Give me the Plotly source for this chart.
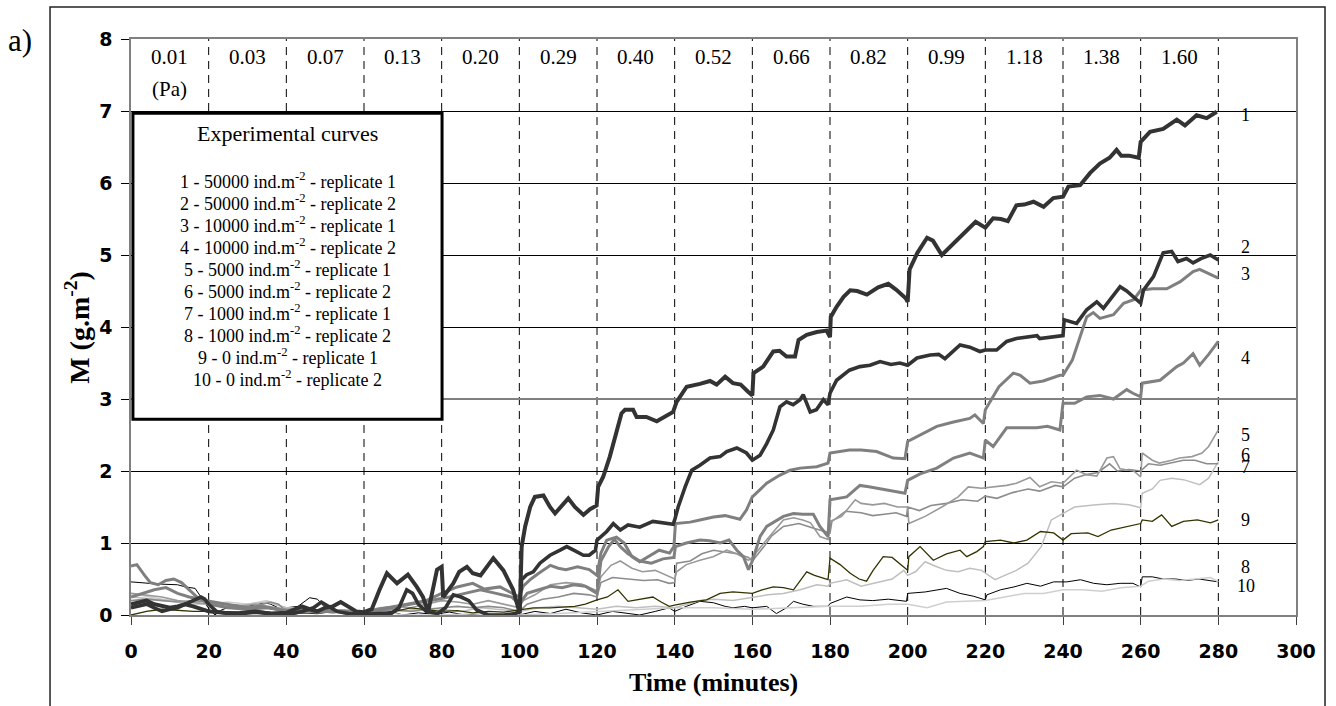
import plotly.graph_objects as go

# ---------------- data ----------------
stress_labels = ["0.01", "0.03", "0.07", "0.13", "0.20", "0.29", "0.40",
                 "0.52", "0.66", "0.82", "0.99", "1.18", "1.38", "1.60"]
stress_x = [10, 30, 50, 70, 90, 110, 130, 150, 170, 190, 210, 230, 250, 270]

legend_title = "Experimental curves"
legend_items = [
    "1 - 50000 ind.m<sup>-2</sup> - replicate 1",
    "2 - 50000 ind.m<sup>-2</sup> - replicate 2",
    "3 - 10000 ind.m<sup>-2</sup> - replicate 1",
    "4 - 10000 ind.m<sup>-2</sup> - replicate 2",
    "5 - 5000 ind.m<sup>-2</sup> - replicate 1",
    "6 - 5000 ind.m<sup>-2</sup> - replicate 2",
    "7 - 1000 ind.m<sup>-2</sup> - replicate 1",
    "8 - 1000 ind.m<sup>-2</sup> - replicate 2",
    "9 - 0 ind.m<sup>-2</sup> - replicate 1",
    "10 - 0 ind.m<sup>-2</sup> - replicate 2",
]

curve_names = ["1", "2", "3", "4", "5", "6", "7", "8", "9", "10"]
curve_label_y = [6.94, 5.11, 4.74, 3.57, 2.50, 2.22, 2.06, 0.67, 1.32, 0.40]

c1_t = [0, 2, 4, 6, 8, 10, 12, 14, 16, 18, 20, 24, 28, 32, 36, 40, 42, 44, 46, 48, 50, 52, 54, 56, 58, 60, 62, 64,
        65.9, 68.5, 71.3, 73.6, 75.2, 76.5, 78.8, 80, 80.4, 83, 84.5, 86.5, 88, 90, 93.3, 95.9, 98.4, 99.7, 100.1,
        100.6, 101.5, 102.8, 104, 106.2, 107.9, 109.2, 111.3, 112.6, 114.3, 116.5, 118.2, 119.9, 120.3, 121.6, 123.3,
        125, 126.3, 127.2, 129.3, 130.2, 132.7, 135.4, 138, 139.6, 140.5, 143.1, 146.5, 149.1, 150.8, 153, 155, 157,
        158.9, 160, 160.3, 162.8, 165.4, 167, 168.8, 171, 171.9, 174, 176.6, 179.1, 180, 180.2, 181.7, 183.5, 185.2,
        187, 189.5, 192.4, 195, 197, 199.5, 200, 200.5, 202.5, 205, 206.5, 208.8, 211, 213.5, 216, 217.5, 220, 222,
        224, 225.8, 228, 230, 232.4, 235, 237.5, 240, 241.4, 244.4, 247, 249.5, 252, 253.8, 255, 257, 259.5, 260,
        262.4, 265.8, 269.3, 271.4, 274.4, 277, 279.6]
c1_v = [0.15, 0.18, 0.2, 0.15, 0.12, 0.1, 0.12, 0.15, 0.12, 0.08, 0.05, 0.03, 0.02, 0.04, 0.02, 0.03, 0.08, 0.12,
        0.08, 0.05, 0.1, 0.12, 0.18, 0.12, 0.05, 0.04, 0.08, 0.35, 0.58, 0.44, 0.56, 0.39, 0.25, 0.04, 0.63, 0.67,
        0.25, 0.44, 0.6, 0.67, 0.58, 0.55, 0.79, 0.62, 0.35, 0.1, 0.02, 0.95, 1.23, 1.5, 1.64, 1.66, 1.5, 1.41, 1.55,
        1.62, 1.5, 1.39, 1.47, 1.52, 1.78, 1.92, 2.2, 2.57, 2.8, 2.85, 2.85, 2.75, 2.75, 2.69, 2.78, 2.82, 2.96,
        3.17, 3.21, 3.25, 3.2, 3.31, 3.22, 3.2, 3.1, 3.05, 3.36, 3.45, 3.66, 3.67, 3.59, 3.59, 3.82, 3.89, 3.93,
        3.95, 3.86, 4.14, 4.28, 4.42, 4.51, 4.5, 4.45, 4.55, 4.6, 4.52, 4.4, 4.35, 4.8, 5.03, 5.24, 5.2, 5.0, 5.12,
        5.25, 5.38, 5.46, 5.38, 5.51, 5.5, 5.47, 5.69, 5.7, 5.74, 5.67, 5.79, 5.81, 5.95, 5.97, 6.14, 6.27, 6.35,
        6.46, 6.38, 6.38, 6.35, 6.57, 6.71, 6.75, 6.88, 6.8, 6.94, 6.9, 6.99]

c2_t = [0, 2, 4, 6, 8, 10, 12, 14, 16, 18, 19, 20, 22, 25, 28, 32, 36, 40, 44, 47, 49, 51, 53, 56, 60, 64, 67, 69,
        71, 72.5, 74, 76, 79, 81, 83, 85, 87, 89, 92, 96, 99, 100, 100.6, 101.9, 103.6, 105.3, 107.9, 110.5, 112.2,
        114, 116.5, 118, 119.6, 120, 122.5, 124.2, 126, 128, 131, 134.4, 136.9, 139.6, 140, 140.9, 142.7, 144.4,
        146.5, 149.1, 151.7, 153.4, 156, 158.5, 160, 162, 163.7, 165.4, 167.1, 168.8, 170.5, 172.3, 173.1, 174.9,
        176.5, 178.3, 179.5, 180, 181.7, 183.5, 185, 187.7, 190.3, 192.9, 195.7, 198, 200, 202.4, 205.8, 208, 209.6,
        213.5, 216, 218.6, 220, 222.9, 225.5, 228, 230.7, 233.3, 234, 237.5, 240, 240.3, 243.5, 246.1, 248.7, 250.4,
        252.1, 254.7, 256.4, 259, 260, 260.7, 263.3, 265.8, 268, 269.6, 271.8, 273.5, 275.5, 277.9, 280]
c2_v = [0.1, 0.12, 0.15, 0.1, 0.05, 0.08, 0.1, 0.15, 0.2, 0.25, 0.22, 0.15, 0.05, 0.02, 0.03, 0.05, 0.02, 0.0, 0.05,
        0.1, 0.18, 0.12, 0.05, 0.02, 0.01, 0.02, 0.02, 0.1, 0.35, 0.3, 0.15, 0.05, 0.02, 0.1, 0.28, 0.25, 0.2, 0.07,
        0.0, 0.0, 0.02, 0.05, 0.49, 0.56, 0.6, 0.72, 0.83, 0.9, 0.95, 0.9, 0.83, 0.83, 0.9, 1.04, 1.16, 1.27, 1.18,
        1.25, 1.22, 1.3, 1.28, 1.26, 1.32, 1.5, 1.78, 2.01, 2.08, 2.18, 2.2, 2.27, 2.32, 2.25, 2.15, 2.22, 2.38,
        2.57, 2.89, 2.96, 2.92, 2.99, 3.06, 2.82, 2.85, 2.99, 2.92, 3.08, 3.26, 3.33, 3.4, 3.45, 3.47, 3.52, 3.48,
        3.5, 3.47, 3.57, 3.61, 3.62, 3.56, 3.75, 3.72, 3.66, 3.68, 3.68, 3.8, 3.84, 3.86, 3.88, 3.84, 3.86, 3.88,
        4.1, 4.05, 4.24, 4.35, 4.26, 4.38, 4.56, 4.5, 4.37, 4.33, 4.51, 4.7, 5.03, 5.05, 4.91, 4.95, 4.89, 4.95,
        5.0, 4.93]

c3_t = [0, 1.5, 3.5, 5, 7, 9, 11, 13, 15, 17, 19, 21, 24, 27, 30, 33, 36, 40, 44, 48, 52, 56, 60, 64, 68, 72, 76,
        80, 84, 88, 91, 95, 98, 100, 101, 103, 105, 108, 110, 112, 115, 118, 120, 121, 122.5, 125, 127, 129, 131,
        133, 136, 138.7, 139.8, 140.2, 144, 146.5, 150, 153, 156.8, 158.5, 160, 163.7, 167, 169.7, 172.3, 176.6,
        179.5, 180, 185, 188, 192, 196.3, 199.3, 200, 203.2, 207.5, 211.8, 216, 217.3, 219.5, 220, 222, 223.5,
        227.2, 229, 231.5, 234.9, 239.2, 240, 242.4, 244.4, 246.1, 247.8, 249.5, 253, 255.6, 258.2, 260, 263,
        266.7, 270.2, 273.5, 275.2, 278.7, 280]
c3_v = [0.68, 0.7, 0.55, 0.45, 0.42, 0.48, 0.5, 0.45, 0.35, 0.25, 0.2, 0.18, 0.15, 0.12, 0.1, 0.12, 0.1, 0.05,
        0.07, 0.04, 0.06, 0.02, 0.04, 0.08, 0.12, 0.15, 0.2, 0.3, 0.39, 0.44, 0.36, 0.39, 0.3, 0.25, 0.4, 0.5, 0.58,
        0.69, 0.65, 0.63, 0.67, 0.63, 0.55, 0.86, 1.04, 1.08, 1.0, 0.81, 0.74, 0.8, 0.9, 0.86, 0.95, 1.27, 1.29,
        1.32, 1.36, 1.38, 1.33, 1.46, 1.64, 1.83, 1.94, 2.01, 2.04, 2.06, 2.11, 2.25, 2.29, 2.29, 2.27, 2.18, 2.17,
        2.41, 2.5, 2.62, 2.68, 2.73, 2.78, 2.66, 2.85, 3.03, 3.17, 3.36, 3.33, 3.22, 3.25, 3.33, 3.33, 3.54, 3.87,
        4.14, 4.2, 4.12, 4.17, 4.33, 4.38, 4.51, 4.53, 4.53, 4.63, 4.77, 4.8, 4.72, 4.68]

c4_t = [0, 3, 6, 9, 12, 15, 18, 20, 25, 30, 35, 40, 45, 50, 55, 60, 65, 70, 75, 78, 82, 86, 90, 94, 98, 100, 102,
        105, 108, 111, 114, 117, 119.5, 120, 121, 123, 124.5, 126, 128, 131, 134, 137, 139.8, 140.2, 143, 146.5,
        149, 151.7, 154, 156, 157.7, 159, 160, 162, 163.7, 166, 168, 170.6, 173, 175.7, 177.4, 179.5, 180, 184.3,
        187.7, 190, 193, 196, 199.3, 200, 203.2, 207.5, 211.8, 216, 219.5, 220, 222, 225.5, 229, 233.2, 236,
        239.2, 240, 243, 246.1, 249.5, 253, 256.4, 258, 260, 260.4, 265, 269.3, 271, 273.5, 275.2, 277.5, 280]
c4_v = [0.25, 0.3, 0.35, 0.38, 0.3, 0.25, 0.22, 0.15, 0.1, 0.08, 0.1, 0.06, 0.08, 0.05, 0.06, 0.03, 0.08, 0.12,
        0.18, 0.2, 0.25, 0.3, 0.35, 0.3, 0.25, 0.15, 0.3, 0.35, 0.4, 0.38, 0.42, 0.4, 0.32, 0.3, 0.75, 0.95, 1.05,
        0.95, 0.85, 0.75, 0.72, 0.78, 0.8, 0.95, 1.0, 1.04, 1.03, 1.0, 1.04, 0.9, 0.81, 0.63, 0.75, 1.09, 1.23, 1.3,
        1.37, 1.41, 1.4, 1.4, 1.23, 1.09, 1.6, 1.64, 1.8, 1.78, 1.75, 1.72, 1.69, 1.87, 1.96, 2.04, 2.18, 2.25,
        2.18, 2.43, 2.34, 2.6, 2.6, 2.6, 2.62, 2.57, 2.94, 2.94, 3.03, 3.05, 3.0, 3.13, 3.08, 3.03, 3.22, 3.26,
        3.45, 3.5, 3.63, 3.47, 3.62, 3.8]

c5_t = [0, 4, 8, 12, 16, 20, 24, 28, 32, 36, 40, 44, 48, 52, 56, 60, 64, 68, 72, 76, 80, 84, 88, 92, 96, 100, 101,
        104, 108, 112, 116, 119.5, 120, 121, 123.6, 126, 129, 131.7, 135, 138.6, 140, 140.5, 143, 146.5, 149.9,
        153.4, 156, 159, 160, 163, 166, 168, 170.6, 173, 175, 177.4, 179.5, 180, 183, 186.5, 188, 191, 194, 197.4,
        200, 200.3, 204.5, 208.8, 213, 215.6, 219, 222, 225.5, 228, 231.5, 234, 237, 240, 243.5, 246, 248.7,
        251.3, 253, 254.7, 258.2, 260, 260.4, 263, 264.8, 268, 270, 273.2, 275.8, 277.5, 279.3, 280]
c5_v = [0.3, 0.28, 0.25, 0.2, 0.18, 0.15, 0.15, 0.12, 0.15, 0.12, 0.08, 0.1, 0.06, 0.08, 0.05, 0.05, 0.1, 0.12,
        0.1, 0.15, 0.2, 0.18, 0.15, 0.2, 0.15, 0.1, 0.2, 0.28, 0.42, 0.45, 0.43, 0.35, 0.32, 0.53, 0.69, 0.75, 0.65,
        0.6, 0.62, 0.53, 0.5, 0.6, 0.7, 0.76, 0.81, 0.9, 0.85, 0.76, 0.8, 1.0, 1.2, 1.32, 1.35, 1.32, 1.28, 1.09,
        1.05, 1.3, 1.37, 1.6, 1.55, 1.53, 1.55, 1.5, 1.5, 1.27, 1.37, 1.5, 1.64, 1.78, 1.76, 1.78, 1.8, 1.83, 1.91,
        1.78, 1.85, 1.83, 2.01, 1.95, 1.93, 2.18, 2.2, 2.03, 2.0, 1.92, 2.25, 2.15, 2.11, 2.15, 2.18, 2.2, 2.25,
        2.34, 2.52, 2.57]

c6_t = [0, 4, 8, 12, 16, 20, 24, 28, 32, 36, 38, 40, 44, 48, 52, 56, 60, 64, 68, 72, 76, 80, 84, 88, 92, 96, 100,
        102, 106, 110, 114, 118, 120, 121, 124, 128, 132, 135.6, 138.6, 140, 140.5, 144, 147, 150, 153, 156, 159,
        160, 163, 165, 168, 172, 176, 180, 180.5, 184, 188, 191, 194, 197, 199.7, 200, 203, 206, 210, 214, 218,
        220, 223, 227, 231, 234, 238, 240, 243, 246, 249, 252, 254, 257, 260, 262, 265, 268, 271, 274, 277, 280]
c6_v = [0.2, 0.22, 0.2, 0.18, 0.2, 0.18, 0.12, 0.1, 0.12, 0.18, 0.15, 0.05, 0.08, 0.05, 0.03, 0.06, 0.02, 0.05,
        0.08, 0.05, 0.08, 0.1, 0.12, 0.1, 0.12, 0.1, 0.05, 0.15, 0.22, 0.25, 0.3, 0.28, 0.25, 0.45, 0.52, 0.5,
        0.48, 0.49, 0.44, 0.45, 0.72, 0.75, 0.85, 0.9, 0.88, 0.85, 0.8, 0.75, 0.95, 1.1, 1.23, 1.27, 1.2, 1.14,
        1.3, 1.44, 1.42, 1.38, 1.4, 1.42, 1.37, 1.5, 1.45, 1.52, 1.55, 1.6, 1.58, 1.65, 1.62, 1.7, 1.75, 1.72, 1.8,
        1.78, 1.9, 1.95, 1.98, 2.1, 2.0, 2.02, 2.0, 2.1, 2.08, 2.12, 2.15, 2.15, 2.1, 2.1]

c7_t = [0, 5, 10, 15, 20, 25, 30, 35, 40, 45, 50, 55, 60, 65, 70, 75, 80, 85, 90, 95, 100, 105, 110, 115, 120,
        125, 130, 135, 140, 146.5, 150, 155, 160, 164, 168, 172.3, 176.6, 179.5, 180, 184.3, 188, 192, 196, 199,
        200, 202, 204.5, 207, 210, 213, 216, 219, 222.5, 225, 228, 231, 234.4, 237, 239.6, 243, 248.6, 253, 257,
        260, 260.4, 263, 265, 268, 271, 275.2, 277.5, 279, 280]
c7_v = [0.25, 0.22, 0.2, 0.18, 0.15, 0.12, 0.15, 0.18, 0.1, 0.08, 0.05, 0.04, 0.05, 0.08, 0.05, 0.1, 0.08, 0.05,
        0.1, 0.08, 0.05, 0.1, 0.12, 0.1, 0.08, 0.12, 0.1, 0.12, 0.1, 0.2, 0.22, 0.2, 0.25, 0.28, 0.3, 0.35, 0.42,
        0.4, 0.44, 0.49, 0.4, 0.45, 0.5, 0.62, 0.55, 0.6, 0.74, 0.68, 0.62, 0.6, 0.65, 0.62, 0.49, 0.55, 0.62, 0.72,
        0.95, 1.32, 1.4, 1.5, 1.53, 1.55, 1.53, 1.49, 1.69, 1.75, 1.87, 1.9, 1.88, 1.81, 1.9, 2.05, 2.13]

c8_t = [0, 5, 10, 15, 20, 25, 30, 35, 37, 40, 45, 50, 55, 60, 65, 70, 80, 90, 100, 110, 120, 130, 140, 150, 160,
        170, 180, 188, 195, 200, 205, 210, 220, 225, 230, 235, 240, 245, 250, 255, 260, 262, 266, 270, 274, 278, 280]
c8_v = [0.3, 0.25, 0.2, 0.15, 0.15, 0.18, 0.15, 0.2, 0.15, 0.1, 0.08, 0.05, 0.03, 0.02, 0.05, 0.0, 0.0, 0.02, 0.0,
        0.02, 0.05, 0.08, 0.1, 0.1, 0.08, 0.1, 0.12, 0.12, 0.15, 0.15, 0.1, 0.18, 0.2, 0.25, 0.3, 0.3, 0.35, 0.35,
        0.33, 0.38, 0.4, 0.47, 0.5, 0.48, 0.5, 0.52, 0.46]

c9_t = [0, 4, 8, 12, 16, 20, 24, 28, 32, 36, 40, 44, 48, 52, 56, 60, 64, 68, 72, 76, 80, 84, 88, 92, 96, 100,
        103.6, 108, 114.3, 117, 120, 122.7, 125.4, 128, 131, 134.4, 136.5, 138.6, 140.3, 144, 148.2, 151.7, 155,
        160, 162.5, 165.4, 168, 170.6, 174, 176, 179.5, 180, 182.6, 185.2, 187.5, 189.4, 191.1, 193.7, 196, 198.3,
        200, 200.3, 203.2, 206.6, 210, 213.5, 215.2, 217.8, 219.5, 220, 223.9, 227.3, 230.7, 234.2, 237.6, 240,
        242.1, 246.4, 249, 252.4, 256.7, 260, 260.4, 263, 265.4, 268, 271, 274.6, 278, 280]
c9_v = [0.0, 0.05, 0.08, 0.06, 0.05, 0.05, 0.03, 0.0, 0.05, 0.03, 0.0, 0.03, 0.02, 0.05, 0.03, 0.02, 0.03, 0.05,
        0.1, 0.07, 0.05, 0.06, 0.03, 0.05, 0.04, 0.07, 0.1, 0.1, 0.12, 0.15, 0.21, 0.25, 0.35, 0.19, 0.22, 0.25,
        0.18, 0.12, 0.14, 0.18, 0.21, 0.3, 0.32, 0.3, 0.35, 0.39, 0.38, 0.35, 0.6, 0.55, 0.49, 0.79, 0.7, 0.58, 0.5,
        0.47, 0.62, 0.81, 0.8, 0.7, 0.62, 0.81, 0.95, 0.76, 0.85, 0.9, 0.81, 0.88, 0.95, 1.02, 1.04, 1.0, 1.04,
        1.16, 1.14, 1.04, 1.13, 1.14, 1.09, 1.18, 1.23, 1.27, 1.32, 1.3, 1.39, 1.23, 1.3, 1.32, 1.28, 1.32]

c10_t = [0, 7, 12, 14, 16.5, 18.2, 19.9, 21.6, 23.3, 26.8, 30, 34.4, 36, 38.3, 40, 43, 45, 46, 48, 50, 53, 56, 60,
         64, 67, 70, 74, 78, 82, 86, 90, 95, 100, 104, 108, 112, 116, 120, 124, 128, 131, 135, 138.6, 140, 143,
         146.5, 150, 153, 155, 158, 160, 163.7, 166.2, 168.8, 170.6, 173, 175.7, 179.5, 180, 184.3, 187.7, 191, 195,
         199.7, 200, 204.5, 210, 213.5, 217, 220, 220.4, 223.9, 227.4, 230.7, 234.2, 237.6, 241, 244.5, 247.9,
         251.3, 254.7, 258, 260, 260.4, 263, 265.8, 269, 272, 275, 280]
c10_v = [0.46, 0.43, 0.42, 0.39, 0.37, 0.24, 0.1, 0.0, 0.07, 0.14, 0.12, 0.17, 0.15, 0.09, 0.1, 0.12, 0.2, 0.24,
         0.22, 0.1, 0.06, 0.02, 0.03, 0.02, 0.05, 0.0, 0.03, 0.01, 0.04, 0.0, 0.02, 0.0, 0.0, 0.05, 0.02, 0.08, 0.03,
         0.0, 0.05, 0.02, 0.0, 0.05, 0.1, 0.05, 0.12, 0.19, 0.17, 0.12, 0.1, 0.12, 0.1, 0.12, 0.02, 0.1, 0.19, 0.15,
         0.12, 0.12, 0.16, 0.25, 0.21, 0.2, 0.22, 0.19, 0.3, 0.32, 0.37, 0.3, 0.26, 0.21, 0.28, 0.35, 0.39, 0.44,
         0.4, 0.46, 0.46, 0.49, 0.44, 0.42, 0.44, 0.44, 0.39, 0.53, 0.53, 0.5, 0.5, 0.48, 0.5, 0.46]

curves_t = [c1_t, c2_t, c3_t, c4_t, c5_t, c6_t, c7_t, c8_t, c9_t, c10_t]
curves_v = [c1_v, c2_v, c3_v, c4_v, c5_v, c6_v, c7_v, c8_v, c9_v, c10_v]

x_ticks = list(range(0, 301, 20))
y_ticks = list(range(0, 9))
stage_bounds = list(range(20, 281, 20))

# ---------------- styles ----------------
colors = ["#333333", "#333333", "#7f7f7f", "#808080", "#999999",
          "#8c8c8c", "#bfbfbf", "#cfcfcf", "#333300", "#000000"]
widths = [4.0, 3.6, 3.0, 3.0, 1.6, 1.6, 1.5, 1.5, 1.3, 1.0]

SERIF = "Liberation Serif"
SANS = "DejaVu Sans"

fig = go.Figure()

# draw lighter curves first, darker ones on top
for i in [9, 7, 6, 5, 4, 8, 3, 2, 1, 0]:
    fig.add_trace(go.Scatter(
        x=curves_t[i], y=curves_v[i], mode="lines", name=curve_names[i],
        line=dict(color=colors[i], width=widths[i]), showlegend=False,
        hoverinfo="skip"))

shapes = []
# vertical dashed stage lines
for xb in stage_bounds:
    shapes.append(dict(type="line", xref="x", yref="y", x0=xb, x1=xb, y0=0, y1=8,
                       line=dict(color="black", width=1, dash="8px,6px"), layer="between"))
# grey gridline at 3
shapes.append(dict(type="line", xref="x", yref="y", x0=0, x1=300, y0=3, y1=3,
                   line=dict(color="#808080", width=2), layer="between"))
# legend box
shapes.append(dict(type="rect", xref="x", yref="y", x0=0.5, x1=80.1, y0=2.72, y1=6.97,
                   line=dict(color="black", width=3), fillcolor="white", layer="between"))
# outer frame
shapes.append(dict(type="rect", xref="paper", yref="paper", x0=-0.0695, x1=1.0249, y0=-0.17, y1=1.0556,
                   line=dict(color="#222222", width=1.5), fillcolor="rgba(0,0,0,0)", layer="below"))

annotations = []
for lab, xs in zip(stress_labels, stress_x):
    annotations.append(dict(x=xs, y=7.75, xref="x", yref="y", text=lab, showarrow=False,
                            font=dict(family=SERIF, size=21, color="black")))
annotations.append(dict(x=10, y=7.31, xref="x", yref="y", text="(Pa)", showarrow=False,
                        font=dict(family=SERIF, size=21, color="black")))

annotations.append(dict(x=40.3, y=6.69, xref="x", yref="y", text=legend_title, showarrow=False,
                        font=dict(family=SERIF, size=22, color="black")))
for k, item in enumerate(legend_items):
    annotations.append(dict(x=40.3, y=6.04 - k * 0.3056, xref="x", yref="y", text=item, showarrow=False,
                            font=dict(family=SERIF, size=18, color="black")))

for name, ly in zip(curve_names, curve_label_y):
    annotations.append(dict(x=287, y=ly, xref="x", yref="y", text=name, showarrow=False,
                            xanchor="center", yanchor="middle",
                            font=dict(family=SERIF, size=18, color="black")))

annotations.append(dict(x=-0.0465, y=0.5, xref="paper", yref="paper", text="<b>M (g.m<sup>-2</sup>)</b>",
                        showarrow=False, textangle=-90, xanchor="center", yanchor="middle",
                        font=dict(family=SERIF, size=28, color="black")))
annotations.append(dict(x=0.4996, y=-0.118, xref="paper", yref="paper", text="<b>Time (minutes)</b>",
                        showarrow=False, xanchor="center", yanchor="middle",
                        font=dict(family=SERIF, size=26, color="black")))
annotations.append(dict(x=-0.0953, y=0.998, xref="paper", yref="paper", text="a)",
                        showarrow=False, xanchor="center", yanchor="middle",
                        font=dict(family=SERIF, size=31, color="black")))

fig.update_layout(
    width=1336, height=706,
    margin=dict(l=131, r=40, t=39, b=91),
    paper_bgcolor="white", plot_bgcolor="white",
    shapes=shapes, annotations=annotations,
    xaxis=dict(range=[0, 300], tickmode="array", tickvals=x_ticks, ticktext=[str(v) for v in x_ticks],
               showgrid=False, zeroline=False, showline=True, linecolor="#808080", linewidth=1.5,
               mirror=True, ticks="outside", ticklen=8, tickcolor="#404040", tickwidth=1,
               ticklabelstandoff=10,
               tickfont=dict(family=SANS, size=19, color="black", weight="bold")),
    yaxis=dict(range=[0, 8], tickmode="array", tickvals=y_ticks, ticktext=[str(v) for v in y_ticks],
               showgrid=True, gridcolor="black", gridwidth=1, zeroline=False,
               showline=True, linecolor="#808080", linewidth=1.5, mirror=True,
               ticks="outside", ticklen=8, tickcolor="black", tickwidth=1,
               ticklabelstandoff=5,
               tickfont=dict(family=SANS, size=19, color="black", weight="bold")),
)

fig.write_html("out.html", config={"displayModeBar": False},
               post_script="document.body.style.margin='0px';document.body.style.overflow='hidden';")
